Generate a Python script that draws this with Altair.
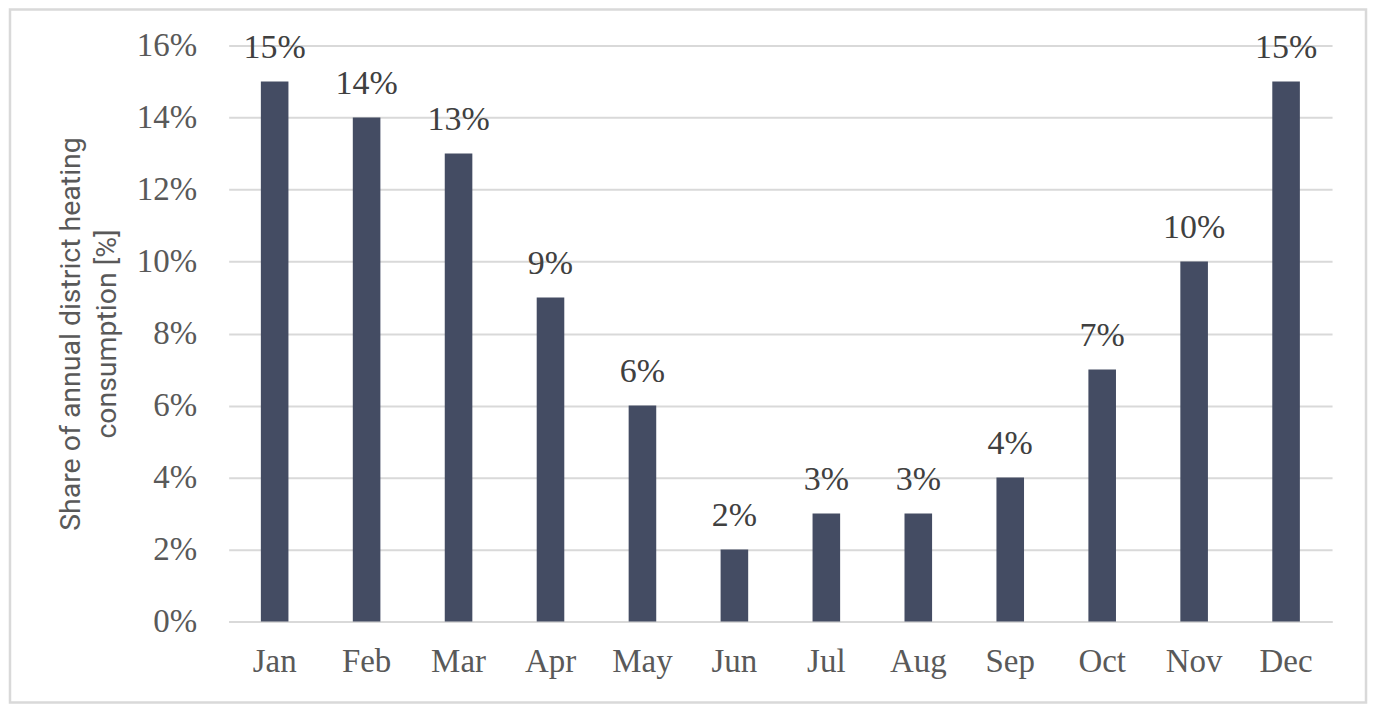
import altair as alt
import pandas as pd

months = ["Jan", "Feb", "Mar", "Apr", "May", "Jun", "Jul", "Aug", "Sep", "Oct", "Nov", "Dec"]
shares = [0.15, 0.14, 0.13, 0.09, 0.06, 0.02, 0.03, 0.03, 0.04, 0.07, 0.10, 0.15]
y_ticks = [0.0, 0.02, 0.04, 0.06, 0.08, 0.10, 0.12, 0.14, 0.16]
y_title = ["Share of annual district heating", "consumption [%]"]

df = pd.DataFrame({"month": months, "share": shares})

SERIF = "Liberation Serif"
BAR = "#444c63"
GRID = "#d9d9d9"

x_enc = alt.X(
    "month:N",
    sort=months,
    title=None,
    scale=alt.Scale(paddingInner=0.7, paddingOuter=0.35),
    axis=alt.Axis(
        labelAngle=0, ticks=False, tickSize=0, domain=True, domainColor=GRID,
        domainWidth=2, labelFont=SERIF, labelFontSize=33, labelColor="#595959",
        labelPadding=24, grid=False,
    ),
)
y_enc = alt.Y(
    "share:Q",
    title=y_title,
    scale=alt.Scale(domain=[0, 0.16], nice=False),
    axis=alt.Axis(
        values=y_ticks, format=".0%", ticks=False, tickSize=0, domain=False,
        grid=True, gridColor=GRID, gridWidth=2, labelFont=SERIF, labelFontSize=33,
        labelColor="#595959", labelPadding=32, titleFont="Roboto",
        titleFontSize=28.5, titleFontWeight="normal", titleColor="#595959",
        titleLineHeight=36, titlePadding=15,
    ),
)

base = alt.Chart(df)

bars = base.mark_bar(color=BAR).encode(x=x_enc, y=y_enc)

labels = base.mark_text(
    font=SERIF, fontSize=34, color="#404040", baseline="alphabetic", dy=-24
).encode(x=x_enc, y=y_enc, text=alt.Text("share:Q", format=".0%"))

border = alt.Chart(pd.DataFrame({"a": [0]})).mark_rect(
    fill="transparent", stroke=GRID, strokeWidth=2.5
).encode(
    x=alt.value(-219), x2=alt.value(1139), y=alt.value(-36), y2=alt.value(658)
)

chart = alt.layer(border, bars, labels).properties(
    width=1105,
    height=577,
    padding={"left": 221, "top": 37, "right": 40, "bottom": 85},
    autosize=alt.AutoSizeParams(type="none"),
    background="white",
).configure_view(stroke=None)

chart.save("out.html", embed_options={"renderer": "svg", "actions": False})
